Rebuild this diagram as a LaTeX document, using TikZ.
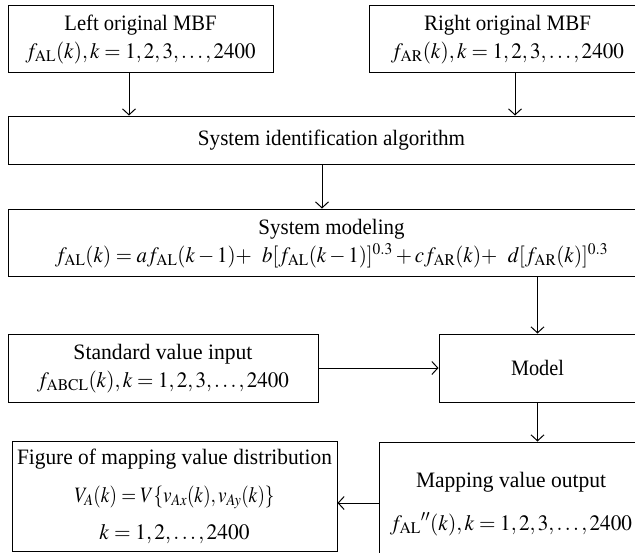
\documentclass[tikz,border=0pt]{standalone}
\usepackage{mathptmx}
\usepackage{fontspec}
\setmainfont{Liberation Serif}
\usetikzlibrary{arrows.meta,calc}
\newcommand{\fw}[2]{\resizebox{#1pt}{\height}{#2}}
\tikzset{
  box/.style={draw=black, line width=1pt, rectangle, inner sep=0pt, align=center,
    font=\fontsize{22}{28}\selectfont},
  arr/.style={draw=black, line width=1pt, -{Straight Barb[length=6pt,width=13pt,line width=1pt]}},
}
\begin{document}
\begin{tikzpicture}[x=1pt,y=-1pt]
\useasboundingbox (0,0) rectangle (635,552);
\clip (0,0) rectangle (635,552);
\node[box, minimum width=265, minimum height=67] (L) at (140.5,38.5)
  {\begin{tabular}{@{}c@{}}\fw{152}{Left original MBF}\\ \fw{230}{$f_{\mathrm{AL}}(k), k = 1, 2, 3, \ldots, 2400$}\end{tabular}};
\node[box, minimum width=277, minimum height=67] (R) at (507.5,38.5)
  {\begin{tabular}{@{}c@{}}\fw{167}{Right original MBF}\\ \fw{233}{$f_{\mathrm{AR}}(k), k = 1, 2, 3, \ldots, 2400$}\end{tabular}};
\node[box, minimum width=647, minimum height=48] (S) at (331.5,140)
  {\fw{267}{System identification algorithm}};
\node[box, minimum width=647, minimum height=67] (M) at (331.5,242.5)
  {\begin{tabular}{@{}c@{}}\fw{146}{System modeling}\\ \fw{553}{$f_{\mathrm{AL}}(k) = a f_{\mathrm{AL}}(k-1)\mathord{+}\ \ b[f_{\mathrm{AL}}(k-1)]^{0.3} + c f_{\mathrm{AR}}(k)\mathord{+}\ \ d[f_{\mathrm{AR}}(k)]^{0.3}$}\end{tabular}};
\node[box, minimum width=310, minimum height=68] (Std) at (163,368)
  {\begin{tabular}{@{}c@{}}\fw{179}{Standard value input}\\ \fw{252}{$f_{\mathrm{ABCL}}(k), k = 1, 2, 3, \ldots, 2400$}\end{tabular}};
\node[box, minimum width=197, minimum height=68] (Model) at (537.5,368)
  {\fw{53}{Model}};
\node[box, minimum width=264, minimum height=122] (Map) at (511,503)
  {\begin{tabular}{@{}c@{}}\fw{190}{Mapping value output}\\[15pt] \fw{242}{${f_{\mathrm{AL}}}''(k), k = 1, 2, 3, \ldots, 2400$}\end{tabular}};
\node[box, minimum width=325, minimum height=110] (Fig) at (174.5,496)
  {\begin{tabular}{@{}c@{}}\fw{315}{Figure of mapping value distribution}\\[10pt] \fw{200}{$V_A(k) = V\{v_{Ax}(k), v_{Ay}(k)\}$}\\[9pt] \fw{150}{$k = 1, 2 , \ldots, 2400$}\end{tabular}};
\coordinate (cL) at (129,0);
\coordinate (cR) at (515,0);
\coordinate (cS) at (322,0);
\draw[arr] (L.south -| cL) -- (S.north -| cL);
\draw[arr] (R.south -| cR) -- (S.north -| cR);
\draw[arr] (S.south -| cS) -- (M.north -| cS);
\draw[arr] (M.south -| Model.north) -- (Model.north);
\draw[arr] (Std.east) -- (Std.east -| Model.west);
\draw[arr] (Model.south) -- (Model.south |- Map.north);
\draw[arr] (Map.west) -- (Map.west -| Fig.east);
\end{tikzpicture}
\end{document}
